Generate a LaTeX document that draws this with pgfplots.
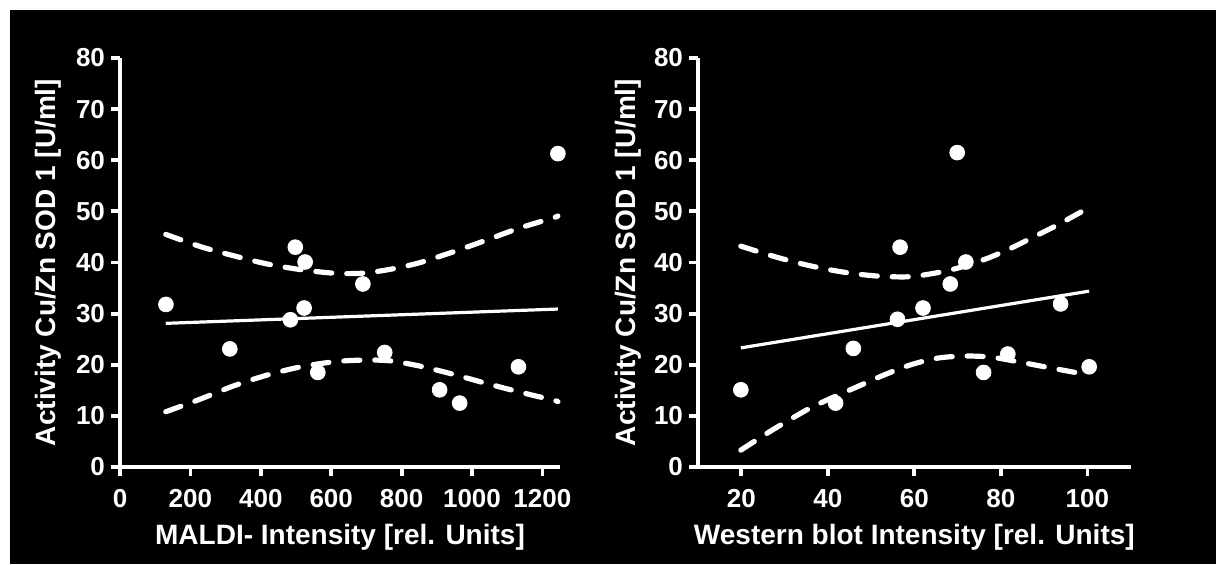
\documentclass[border=0pt]{standalone}
\usepackage{pgfplots}
\pgfplotsset{compat=1.18}
\usepackage{pgfplotstable}
\usepackage{fontspec}
\setmainfont{Liberation Sans}
\pgfplotstableread{
x y
130.5 31.8
312 23.1
484 28.8
498 43.0
526 40.1
523 31.1
562 18.5
690 35.8
752 22.4
908 15.1
965 12.5
1132 19.6
1244 61.3
}\maldi
\pgfplotstableread{
x y
19.9 15.1
41.8 12.5
45.9 23.2
56.1 28.9
56.7 43.0
62.0 31.1
68.3 35.8
69.9 61.5
71.9 40.1
76.0 18.5
81.6 22.1
93.8 31.9
100.4 19.6
}\western
\begin{document}
\begin{tikzpicture}
\path[use as bounding box] (0,0) rectangle (608pt,282pt);
\fill[white] (0,0) rectangle (608pt,282pt);
\fill[black] (5pt,0) rectangle (608pt,277pt);
\pgfplotsset{
  gp/.style={
    scale only axis, height=204.5pt,
    axis x line=bottom, axis y line=left,
    axis line style={-, white, line width=1.9pt},
    tick style={white, line width=1.9pt},
    tick align=outside, major tick length=4.5pt,
    ymin=0, ymax=80, ytick={0,10,...,80},
    ticklabel style={font=\fontsize{13}{14}\selectfont\bfseries, text=white},
    xticklabel style={yshift=-3pt},
    yticklabel style={xshift=0.5pt},
    /pgf/number format/assume math mode=true,
    /pgf/number format/1000 sep={},
    label style={font=\fontsize{14}{16}\selectfont\bfseries, text=white},
    ylabel={Activity Cu/Zn SOD 1 [U/ml]},
    xlabel style={at={(axis description cs:0.5,0)}, anchor=center, yshift=-35pt},
    clip=false,
  },
  pts/.style={only marks, mark=*, mark size=3.7pt, white, mark options={fill=white, draw=white}},
  reg/.style={white, line width=1.6pt},
  band/.style={white, line width=2.6pt, dash pattern=on 8pt off 7.5pt, line cap=round, smooth},
}
\begin{axis}[gp, at={(60pt,48.5pt)}, anchor=south west, width=220pt,
  xmin=0, xmax=1250, xtick={0,200,...,1200},
  xlabel={MALDI- Intensity [rel. Units]},
  ylabel style={at={(axis description cs:-0.1636,0.5)}, anchor=center}]
\addplot[band] coordinates {(130,45.5) (229,43.1) (324,41.3) (419,39.7) (514,38.6) (610,37.9) (686,37.9) (762,38.6) (848,39.9) (943,42.0) (1038,44.3) (1133,46.7) (1229,48.7) (1244,49.1)};
\addplot[band] coordinates {(130,10.8) (229,13.3) (324,15.9) (419,18.0) (514,19.6) (610,20.6) (686,20.9) (762,20.8) (848,19.8) (943,18.2) (1038,16.4) (1133,14.7) (1229,13.1) (1244,12.8)};
\addplot[reg] coordinates {(130,28.1) (1244,30.9)};
\addplot[pts] table[x=x,y=y] {\maldi};
\end{axis}
\begin{axis}[gp, at={(349pt,48.5pt)}, anchor=south west, width=216.35pt,
  xmin=10, xmax=110, xtick={20,40,...,100},
  xlabel={Western blot Intensity [rel. Units]},
  ylabel style={at={(axis description cs:-0.162,0.5)}, anchor=center}]
\addplot[band] coordinates {(19.9,43.2) (27.5,41.2) (35.2,39.5) (43.0,38.2) (50.7,37.4) (58.4,37.2) (64.6,37.9) (70.0,38.9) (76.2,40.6) (81.6,42.5) (87.8,45.1) (93.2,47.4) (99.4,50.3) (100.4,50.7)};
\addplot[band] coordinates {(19.9,3.3) (27.5,7.4) (35.2,11.2) (40.6,13.4) (46.8,15.7) (53.0,18.0) (59.2,20.0) (65.4,21.3) (71.6,21.7) (77.7,21.5) (83.9,20.6) (90.1,19.6) (97.8,18.4) (100.4,18.0)};
\addplot[reg] coordinates {(19.9,23.3) (100.4,34.4)};
\addplot[pts] table[x=x,y=y] {\western};
\end{axis}
\end{tikzpicture}
\end{document}
